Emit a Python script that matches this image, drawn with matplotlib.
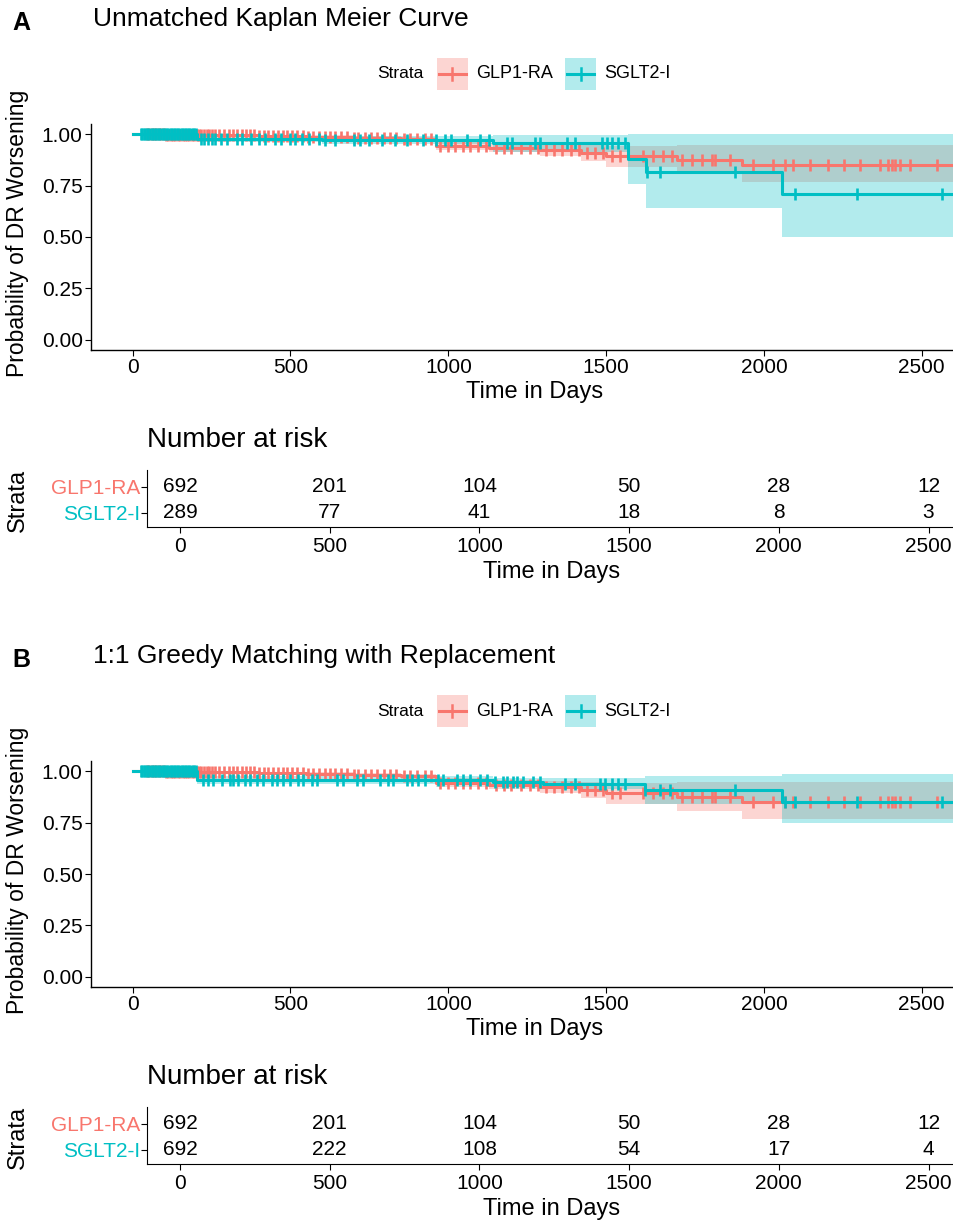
import numpy as np
import matplotlib.pyplot as plt
from matplotlib.patches import Rectangle
from matplotlib.lines import Line2D

plt.rcParams['font.family'] = ['Liberation Sans', 'DejaVu Sans']

RED = '#F8766D'
TEAL = '#00BFC4'
W, H = 954, 1224

# GLP1-RA curve (same cohort in both panels)
glp_t = [0, 100, 250, 400, 550, 700, 850, 960, 1130, 1290, 1420, 1500, 1724, 1930]
glp_s = [1.0, 0.998, 0.995, 0.99, 0.986, 0.982, 0.975, 0.945, 0.935, 0.922, 0.91, 0.895, 0.877, 0.851]
glp_lo = [1.0, 0.994, 0.99, 0.983, 0.977, 0.97, 0.962, 0.925, 0.912, 0.895, 0.87, 0.843, 0.806, 0.766]
glp_hi = [1.0, 1.0, 1.0, 0.997, 0.995, 0.993, 0.988, 0.965, 0.958, 0.952, 0.948, 0.945, 0.948, 0.95]
glp_cens = [45, 52, 60, 68, 75, 83, 90, 98, 105, 112, 120, 128, 135, 143, 150, 158, 165, 172,
            180, 188, 195, 203, 210, 218, 226, 234, 242, 250, 262, 275, 290, 305, 318, 330,
            345, 360, 372, 385, 400, 415, 430, 445, 460, 475, 490, 505, 520, 540, 555, 570,
            590, 610, 625, 640, 660, 680, 700, 715, 735, 755, 775, 795, 815, 835, 860, 880,
            900, 925, 945, 975, 1000, 1020, 1045, 1070, 1095, 1120, 1150, 1175, 1200, 1230,
            1260, 1285, 1310, 1335, 1360, 1390, 1415, 1440, 1465, 1490, 1520, 1545, 1618,
            1650, 1681, 1708, 1740, 1771, 1803, 1835, 1845, 1893, 1966, 2030, 2067, 2093,
            2146, 2204, 2252, 2305, 2368, 2394, 2405, 2415, 2431, 2463, 2548]

# SGLT2-I, unmatched
sg_a_t = [0, 205, 600, 1140, 1570, 1625, 2056]
sg_a_s = [1.0, 0.978, 0.972, 0.958, 0.882, 0.814, 0.709]
sg_a_lo = [1.0, 0.962, 0.952, 0.914, 0.757, 0.639, 0.50]
sg_a_hi = [1.0, 0.993, 0.99, 0.998, 1.0, 1.0, 1.0]
sg_a_cens = [25, 30, 35, 40, 45, 50, 55, 60, 65, 70, 75, 80, 85, 90, 95, 100, 105, 110, 115,
             120, 125, 130, 135, 140, 145, 150, 155, 160, 165, 170, 175, 180, 185, 190, 195,
             200, 215, 225, 240, 250, 262, 280, 300, 330, 345, 375, 400, 420, 450, 470, 500,
             515, 535, 560, 590, 610, 640, 700, 720, 750, 790, 830, 870, 920, 960, 990, 1010,
             1060, 1100, 1130, 1185, 1201, 1275, 1291, 1375, 1401, 1486, 1502, 1518, 1539,
             1560, 1629, 1671, 1908, 2099, 2294, 2563]

# SGLT2-I, 1:1 greedy matching
sg_b_t = [0, 205, 1140, 1300, 1623, 2056]
sg_b_s = [1.0, 0.958, 0.948, 0.94, 0.911, 0.851]
sg_b_lo = [1.0, 0.94, 0.925, 0.912, 0.843, 0.746]
sg_b_hi = [1.0, 0.975, 0.968, 0.965, 0.978, 0.985]
sg_b_cens = [25, 30, 35, 40, 45, 50, 55, 60, 65, 70, 75, 80, 85, 90, 95, 100, 105, 110, 115,
             120, 125, 130, 135, 140, 145, 150, 155, 160, 165, 170, 175, 180, 185, 190, 195,
             200, 224, 240, 255, 282, 308, 319, 335, 356, 372, 393, 414, 440, 456, 477, 498,
             525, 541, 567, 583, 646, 667, 710, 731, 784, 810, 826, 868, 884, 905, 926, 968,
             984, 1027, 1048, 1069, 1100, 1122, 1148, 1174, 1185, 1206, 1217, 1238, 1269,
             1291, 1370, 1401, 1480, 1496, 1518, 1539, 1560, 1623, 1671, 1702, 1908, 2067,
             2099, 2294, 2563]

t_end = 2750
risk_times = [0, 500, 1000, 1500, 2000, 2500]
strata = ['GLP1-RA', 'SGLT2-I']
risk_a = [[692, 201, 104, 50, 28, 12], [289, 77, 41, 18, 8, 3]]
risk_b = [[692, 201, 104, 50, 28, 12], [692, 222, 108, 54, 17, 4]]

panels = [
    ('A', 'Unmatched Kaplan Meier Curve', (sg_a_t, sg_a_s, sg_a_lo, sg_a_hi, sg_a_cens), risk_a, 0),
    ('B', '1:1 Greedy Matching with Replacement', (sg_b_t, sg_b_s, sg_b_lo, sg_b_hi, sg_b_cens), risk_b, 637),
]

TICK_FS = 15
fig = plt.figure(figsize=(W / 100, H / 100), dpi=100)


def fx(px):
    return px / W


def fy(py):
    return 1 - py / H


def draw_km(ax, t, s, lo, hi, cens, color):
    t = np.array(t + [t_end])
    s = np.array(s + [s[-1]])
    lo = np.array(lo + [lo[-1]])
    hi = np.array(hi + [hi[-1]])
    ax.fill_between(t, lo, hi, step='post', color=color, alpha=0.3, lw=0)
    ax.step(t, s, where='post', color=color, lw=2.2)
    idx = np.searchsorted(t, cens, side='right') - 1
    ax.plot(cens, s[idx], ls='none', marker='|', ms=8.5, mew=1.9, color=color)


for letter, title, sg, risk, off in panels:
    # panel letter and title
    fig.text(fx(12), fy(23 + off), letter, fontsize=18, fontweight='bold', va='center')
    fig.text(fx(93), fy(19 + off), title, fontsize=19, va='center')

    # legend
    ly = 74 + off
    fig.text(fx(424), fy(ly), 'Strata', fontsize=12.5, ha='right', va='center')
    for x0, col, lab in [(437, RED, 'GLP1-RA'), (565, TEAL, 'SGLT2-I')]:
        fig.add_artist(Rectangle((fx(x0), fy(ly + 16)), 31 / W, 32 / H, transform=fig.transFigure,
                                 facecolor=col, alpha=0.3, lw=0))
        fig.add_artist(Line2D([fx(x0 + 2), fx(x0 + 29)], [fy(ly), fy(ly)], transform=fig.transFigure,
                              color=col, lw=2.2))
        fig.add_artist(Line2D([fx(x0 + 15.5)] * 2, [fy(ly - 6), fy(ly + 6)], transform=fig.transFigure,
                              color=col, lw=1.8))
        fig.text(fx(x0 + 39), fy(ly), lab, fontsize=13, va='center')

    # survival plot
    ax = fig.add_axes([fx(91), fy(350 + off), (W - 91) / W, 226 / H])
    draw_km(ax, glp_t, glp_s, glp_lo, glp_hi, glp_cens, RED)
    draw_km(ax, *sg, TEAL)
    ax.set_xlim(-132, 2602)
    ax.set_ylim(-0.05, 1.05)
    ax.set_xticks(risk_times)
    ax.set_yticks([0, 0.25, 0.5, 0.75, 1.0])
    ax.set_yticklabels(['0.00', '0.25', '0.50', '0.75', '1.00'])
    ax.tick_params(labelsize=TICK_FS, length=4, width=0.8, colors='black', pad=2)
    for sp in ['top', 'right']:
        ax.spines[sp].set_visible(False)
    for sp in ['left', 'bottom']:
        ax.spines[sp].set_linewidth(1.0)
    fig.text(fx(535), fy(392 + off), 'Time in Days', fontsize=17, ha='center', va='center')
    fig.text(fx(18), fy(233 + off), 'Probability of DR Worsening', fontsize=16.5, rotation=90,
             ha='center', va='center')

    # risk table
    fig.text(fx(147), fy(440 + off), 'Number at risk', fontsize=20, va='center')
    tb = fig.add_axes([fx(147), fy(527 + off), (W - 147) / W, 57 / H])
    tb.set_xlim(-110, 2585)
    tb.set_ylim(0.46, 2.65)
    for row, vals in enumerate(risk):
        yrow = 2 - row
        for tt, v in zip(risk_times, vals):
            tb.text(tt, yrow, str(v), ha='center', va='center', fontsize=TICK_FS)
    tb.set_yticks([2, 1])
    tb.set_yticklabels(strata, fontsize=TICK_FS)
    for lbl, col in zip(tb.get_yticklabels(), [RED, TEAL]):
        lbl.set_color(col)
    tb.set_xticks(risk_times)
    tb.tick_params(axis='x', labelsize=TICK_FS, length=4, width=0.8, pad=3)
    tb.tick_params(axis='y', length=4, width=0.8, pad=1)
    for sp in ['top', 'right']:
        tb.spines[sp].set_visible(False)
    fig.text(fx(552), fy(572 + off), 'Time in Days', fontsize=17, ha='center', va='center')
    fig.text(fx(18), fy(500 + off), 'Strata', fontsize=17, rotation=90, ha='center', va='center')

fig.savefig('out.png', dpi=100)
